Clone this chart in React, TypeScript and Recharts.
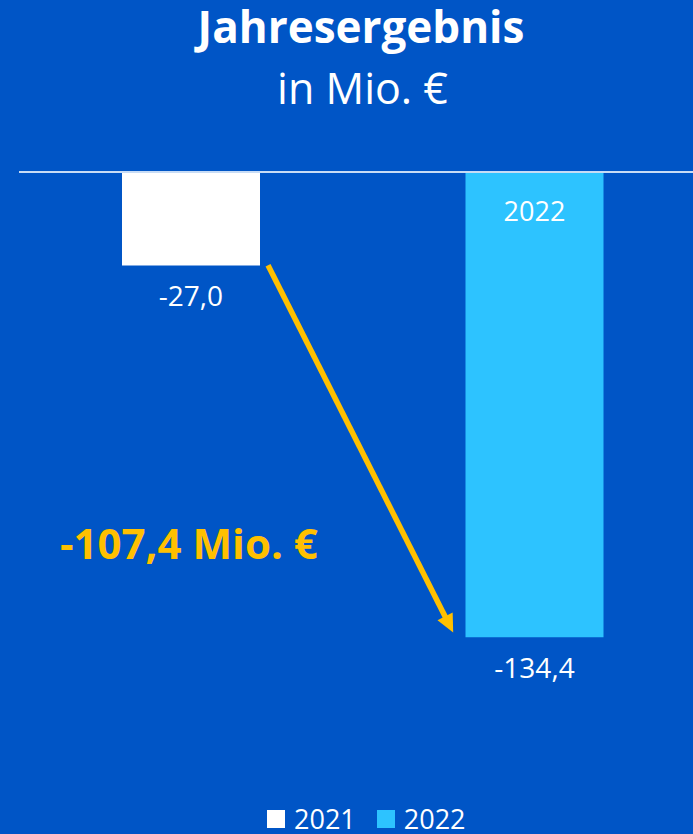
import { Bar, BarChart, LabelList, Legend, ReferenceLine, XAxis, YAxis } from "recharts";

const years = ["2021", "2022"];
const results = [-27.0, -134.4];
const positions = [0.5, 1.5];
const colors = ["#ffffff", "#2dc3ff"];
const delta = "-107,4 Mio. €";
// arrow from under bar 2021 down to the 2022 bar, in data units
const arrowFrom = { x: 0.725, y: -26.9 };
const arrowTo = { x: 1.264, y: -133 };

const BG = "#0055c6";
const YELLOW = "#ffc000";
const FONT = "'Open Sans', sans-serif";

const data = years.map((year, i) => {
  const row: Record<string, number | string | null> = { x: positions[i], year };
  years.forEach((y, j) => {
    row["v" + y] = i === j ? results[i] : null;
  });
  return row;
});

const fmt = (v: number) => v.toFixed(1).replace(".", ",");

function valueLabel(props: any) {
  const { x, y, width, height, value } = props;
  if (value == null) return null;
  const bottom = Math.max(y, y + height);
  return (
    <text
      x={x + width / 2}
      y={bottom + 41}
      textAnchor="middle"
      fill="#ffffff"
      fontSize={28}
      fontFamily={FONT}
    >
      {fmt(value)}
    </text>
  );
}

function yearLabel(props: any) {
  const { x, y, width, height, value } = props;
  if (value == null) return null;
  const top = Math.min(y, y + height);
  return (
    <text
      x={x + width / 2}
      y={top + 49}
      textAnchor="middle"
      fill="#ffffff"
      fontSize={27}
      fontFamily={FONT}
    >
      2022
    </text>
  );
}

function Arrow(props: any) {
  const { x1, y1, x2, y2 } = props;
  const dx = x2 - x1;
  const dy = y2 - y1;
  const len = Math.sqrt(dx * dx + dy * dy);
  const ux = dx / len;
  const uy = dy / len;
  const head = 18;
  const half = 8.5;
  const bx = x2 - ux * head;
  const by = y2 - uy * head;
  return (
    <g>
      <line x1={x1} y1={y1} x2={bx + ux * 2} y2={by + uy * 2} stroke={YELLOW} strokeWidth={5.5} />
      <polygon
        points={`${x2},${y2} ${bx - uy * half},${by + ux * half} ${bx + uy * half},${by - ux * half}`}
        fill={YELLOW}
      />
    </g>
  );
}

function LegendContent() {
  return (
    <div style={{ display: "flex", alignItems: "center", fontFamily: FONT, fontSize: 27, lineHeight: "26px", color: "#fff" }}>
      {years.map((y, i) => (
        <div key={y} style={{ display: "flex", alignItems: "center", marginRight: 21 }}>
          <span style={{ width: 18, height: 18, background: colors[i], marginRight: 9, display: "inline-block" }} />
          <span>{y}</span>
        </div>
      ))}
    </div>
  );
}

export default function App() {
  return (
    <div style={{ position: "relative", width: 693, height: 834, background: BG, overflow: "hidden" }}>
      <style>{"body{margin:0}"}</style>
      <div
        style={{
          position: "absolute", top: 4, left: 0, width: 722, textAlign: "center",
          fontFamily: FONT, fontWeight: 700, fontSize: 44, lineHeight: "44px", color: "#fff"
        }}
      >
        Jahresergebnis
      </div>
      <div
        style={{
          position: "absolute", top: 66, left: 0, width: 725, textAlign: "center",
          fontFamily: FONT, fontSize: 43, lineHeight: "43px", color: "#fff"
        }}
      >
        in Mio. €
      </div>
      <div
        style={{
          position: "absolute", top: 522, left: 60,
          fontFamily: FONT, fontWeight: 700, fontSize: 42, lineHeight: "42px", color: YELLOW,
          zIndex: 2
        }}
      >
        {delta}
      </div>
      <BarChart width={706} height={834} data={data} margin={{ top: 172, right: 0, left: 19, bottom: 108 }}>
        <XAxis type="number" dataKey="x" domain={[0, 2]} hide />
        <YAxis type="number" domain={[-160, 0]} hide />
        <ReferenceLine y={0} stroke="#c8dcf5" strokeWidth={2} />
        <Bar dataKey="v2021" stackId="j" fill={colors[0]} barSize={138} isAnimationActive={false}>
          <LabelList dataKey="v2021" content={valueLabel} />
        </Bar>
        <Bar dataKey="v2022" stackId="j" fill={colors[1]} barSize={138} isAnimationActive={false}>
          <LabelList dataKey="v2022" content={valueLabel} />
          <LabelList dataKey="v2022" content={yearLabel} />
        </Bar>
        <ReferenceLine
          segment={[arrowFrom, arrowTo]}
          ifOverflow="visible"
          shape={Arrow}
        />
        <Legend
          layout="horizontal"
          verticalAlign="middle"
          align="center"
          content={LegendContent}
          wrapperStyle={{ top: 806, left: 267, width: "auto" }}
        />
      </BarChart>
    </div>
  );
}
